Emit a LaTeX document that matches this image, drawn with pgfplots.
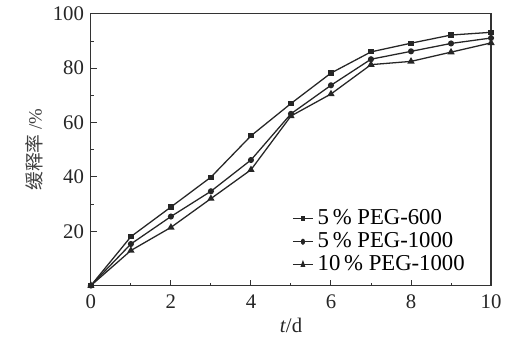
\documentclass[border=0pt]{standalone}
\usepackage{pgfplots}
\pgfplotsset{compat=1.18}
\usepackage{fontspec}
\setmainfont{Liberation Serif}
\newfontfamily\cjk{Noto Sans CJK SC}
\begin{document}
\begin{tikzpicture}
\begin{axis}[
  width=202.5pt, height=137.5pt, scale only axis,
  xmin=0, xmax=10, ymin=0, ymax=100,
  xtick={0,2,4,6,8,10}, ytick={20,40,60,80,100},
  minor x tick num=1, minor y tick num=1,
  tick align=inside, xtick pos=bottom, ytick pos=left,
  major tick length=3pt, minor tick length=1.5pt,
  /pgf/number format/assume math mode=true,
  tick label style={font=\fontsize{10.5}{12}\selectfont, black!85},
  xticklabel style={yshift=-1pt},
  axis line style={black!80, line width=0.6pt},
  tick style={black!80, line width=0.5pt},
  xlabel={\textit{t}/d}, ylabel={{\cjk 缓释率} /\%},
  xlabel style={font=\fontsize{10.5}{12}\selectfont, black!85, yshift=2pt},
  ylabel style={font=\fontsize{9.5}{12}\selectfont, black!75, yshift=-2pt},
  legend style={draw=none, fill=none, font=\fontsize{11.5}{11}\selectfont, at={(0.95,0.02)}, anchor=south east, row sep=-1.5pt, inner sep=1pt},
  legend cell align=left,
  legend image post style={xscale=0.6},
  every axis plot/.append style={black!85, line width=0.65pt},
]
\addplot[mark=square*, mark size=1pt] coordinates {(0,0)(1,18.0)(2,28.9)(3,39.9)(4,55.1)(5,67.0)(6,78.2)(7,86.0)(8,89.2)(9,92.2)(10,93.2)};
\addlegendentry{5\,\% PEG-600}
\addplot[mark=*, mark size=1.2pt] coordinates {(0,0)(1,15.3)(2,25.4)(3,34.7)(4,46.2)(5,63.2)(6,73.7)(7,83.3)(8,86.2)(9,89.1)(10,91.1)};
\addlegendentry{5\,\% PEG-1000}
\addplot[mark=triangle*, mark size=1.5pt] coordinates {(0,0)(1,12.9)(2,21.4)(3,32.0)(4,42.6)(5,62.4)(6,70.5)(7,81.3)(8,82.5)(9,85.9)(10,89.3)};
\addlegendentry{10\,\% PEG-1000}
\end{axis}
\path (current axis.south west) ++(-46pt,-28pt);
\path (current axis.north east) ++(5.5pt,7pt);
\end{tikzpicture}
\end{document}
